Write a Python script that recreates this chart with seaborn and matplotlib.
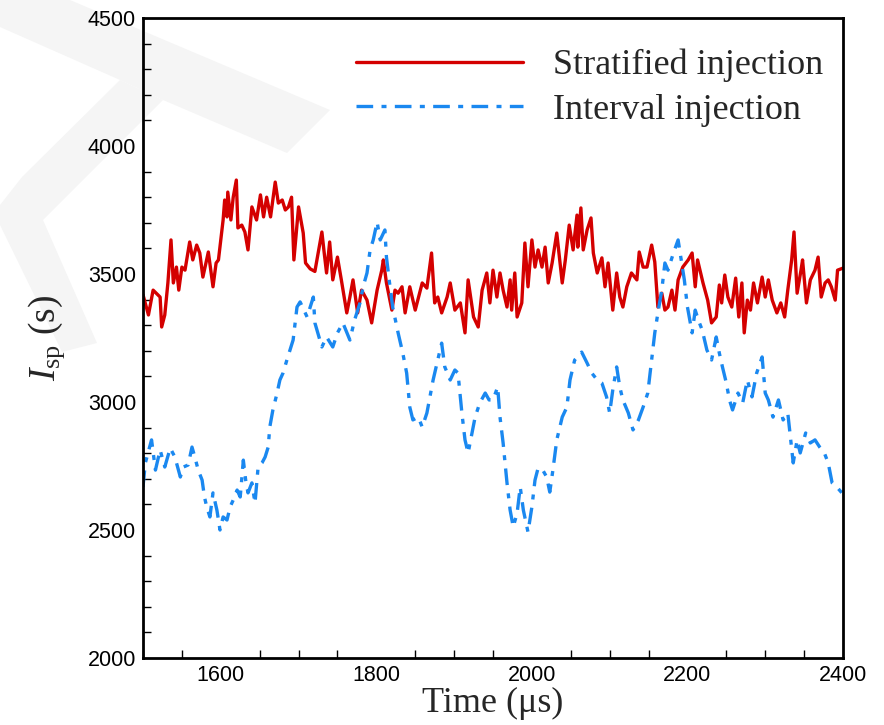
import matplotlib
matplotlib.use("Agg")
import matplotlib.pyplot as plt
from matplotlib import font_manager
from matplotlib.ticker import MultipleLocator
from matplotlib.patches import Polygon
import seaborn as sns
import pandas as pd

# ---------------- data ----------------
strat_t = [1500, 1507, 1513, 1522, 1524, 1528, 1532, 1536, 1539, 1543, 1546, 1550, 1554,
           1560, 1564, 1569, 1573, 1577, 1584, 1590, 1594, 1597, 1603, 1605, 1608, 1609,
           1613, 1616, 1620, 1622, 1627, 1631, 1635, 1640, 1646, 1651, 1655, 1659, 1664,
           1670, 1674, 1679, 1683, 1687, 1691, 1694, 1700, 1706, 1709, 1715, 1721, 1730,
           1733, 1736, 1740, 1744, 1750, 1755, 1762, 1766, 1770, 1776, 1781, 1788, 1794,
           1801, 1807, 1809, 1813, 1820, 1824, 1828, 1833, 1837, 1843, 1850, 1859, 1865,
           1871, 1875, 1879, 1884, 1891, 1895, 1901, 1908, 1914, 1918, 1925, 1931, 1936,
           1942, 1946, 1950, 1955, 1959, 1963, 1968, 1972, 1974, 1978, 1981, 1987, 1991,
           1995, 2000, 2004, 2008, 2013, 2017, 2021, 2026, 2032, 2039, 2043, 2048, 2053,
           2058, 2059, 2063, 2066, 2071, 2076, 2079, 2084, 2090, 2094, 2098, 2104, 2109,
           2113, 2117, 2122, 2128, 2135, 2138, 2143, 2148, 2154, 2158, 2162, 2167, 2171,
           2175, 2180, 2184, 2188, 2194, 2201, 2206, 2210, 2213, 2220, 2226, 2231, 2237,
           2241, 2244, 2248, 2252, 2257, 2262, 2266, 2270, 2273, 2277, 2281, 2285, 2290,
           2296, 2300, 2304, 2309, 2315, 2320, 2325, 2329, 2334, 2337, 2341, 2346, 2348,
           2353, 2358, 2364, 2368, 2372, 2377, 2381, 2385, 2390, 2393, 2400]
strat_v = [3419, 3340, 3437, 3410, 3293, 3340, 3465, 3633, 3465, 3527, 3437, 3527, 3515,
           3625, 3555, 3613, 3582, 3488, 3586, 3450, 3543, 3555, 3711, 3789, 3723, 3820,
           3711, 3800, 3867, 3680, 3691, 3664, 3594, 3762, 3711, 3809, 3723, 3800, 3723,
           3859, 3777, 3789, 3750, 3762, 3800, 3555, 3762, 3660, 3543, 3520, 3510, 3664,
           3582, 3504, 3625, 3477, 3566, 3477, 3348, 3410, 3477, 3348, 3437, 3398, 3309,
           3437, 3515, 3555, 3465, 3359, 3437, 3425, 3450, 3348, 3450, 3359, 3465, 3445,
           3582, 3387, 3410, 3348, 3410, 3465, 3359, 3387, 3270, 3477, 3332, 3293, 3437,
           3504, 3387, 3515, 3410, 3504, 3437, 3371, 3477, 3359, 3504, 3332, 3387, 3621,
           3450, 3633, 3527, 3594, 3527, 3605, 3465, 3543, 3660, 3465, 3555, 3691, 3594,
           3730, 3605, 3758, 3594, 3672, 3719, 3582, 3504, 3563, 3450, 3543, 3359, 3504,
           3410, 3371, 3450, 3504, 3477, 3586, 3527, 3527, 3613, 3547, 3371, 3425, 3359,
           3371, 3437, 3359, 3477, 3527, 3555, 3582, 3450, 3555, 3465, 3398, 3309, 3332,
           3457, 3387, 3496, 3410, 3371, 3484, 3332, 3465, 3270, 3398, 3359, 3465, 3387,
           3488, 3410, 3477, 3398, 3348, 3387, 3332, 3437, 3555, 3664, 3425, 3515, 3555,
           3387, 3477, 3515, 3566, 3410, 3465, 3477, 3450, 3398, 3515, 3523]

inter_t = [1500, 1503, 1511, 1516, 1522, 1528, 1535, 1541, 1548, 1552, 1558, 1563, 1567,
           1571, 1576, 1579, 1582, 1586, 1590, 1595, 1599, 1603, 1608, 1612, 1616, 1621,
           1625, 1629, 1632, 1635, 1640, 1644, 1648, 1653, 1657, 1661, 1663, 1667, 1672,
           1676, 1680, 1685, 1689, 1693, 1698, 1702, 1711, 1719, 1721, 1730, 1736, 1744,
           1750, 1757, 1766, 1772, 1779, 1783, 1788, 1792, 1796, 1801, 1805, 1811, 1813,
           1817, 1821, 1828, 1834, 1839, 1843, 1847, 1854, 1859, 1865, 1873, 1879, 1884,
           1888, 1895, 1901, 1905, 1910, 1914, 1918, 1923, 1927, 1933, 1940, 1945, 1950,
           1956, 1959, 1963, 1968, 1972, 1976, 1981, 1985, 1989, 1995, 2000, 2004, 2008,
           2014, 2019, 2023, 2027, 2032, 2039, 2045, 2049, 2055, 2064, 2071, 2077, 2084,
           2090, 2096, 2100, 2104, 2109, 2113, 2117, 2124, 2130, 2137, 2143, 2149, 2154,
           2158, 2162, 2167, 2171, 2175, 2182, 2188, 2192, 2196, 2200, 2206, 2210, 2214,
           2219, 2225, 2231, 2237, 2241, 2245, 2250, 2254, 2258, 2265, 2271, 2277, 2283,
           2289, 2296, 2300, 2304, 2310, 2317, 2323, 2329, 2336, 2341, 2345, 2352, 2358,
           2364, 2370, 2376, 2381, 2386, 2392, 2400]
inter_v = [2668, 2762, 2852, 2734, 2813, 2746, 2820, 2785, 2707, 2746, 2754, 2824, 2781,
           2734, 2695, 2629, 2590, 2551, 2645, 2578, 2500, 2551, 2539, 2590, 2617, 2656,
           2629, 2773, 2695, 2645, 2684, 2605, 2746, 2762, 2785, 2824, 2902, 2969, 3030,
           3086, 3113, 3164, 3203, 3242, 3371, 3391, 3332, 3410, 3309, 3215, 3254, 3215,
           3270, 3309, 3242, 3320, 3387, 3450, 3504, 3594, 3633, 3703, 3633, 3672, 3566,
           3465, 3371, 3270, 3191, 3113, 2980, 2930, 2941, 2902, 2957, 3086, 3164, 3230,
           3137, 3086, 3125, 3113, 2957, 2852, 2801, 2879, 2941, 2996, 3035, 3008, 3008,
           3059, 2941, 2840, 2684, 2578, 2512, 2566, 2668, 2578, 2492, 2590, 2695, 2742,
           2734, 2707, 2648, 2734, 2852, 2941, 2980, 3086, 3164, 3195, 3152, 3113, 3086,
           3074, 3020, 2957, 3047, 3137, 3059, 3008, 2957, 2891, 2930, 2980, 3035, 3164,
           3270, 3348, 3437, 3543, 3515, 3582, 3633, 3555, 3477, 3371, 3270, 3359, 3320,
           3281, 3203, 3164, 3254, 3191, 3137, 3074, 3008, 2969, 3035, 2996, 3086, 3020,
           3113, 3176, 3035, 3008, 2941, 3008, 2930, 2957, 2762, 2852, 2801, 2879, 2840,
           2852, 2824, 2801, 2762, 2684, 2668, 2640]

series_names = ["Stratified injection", "Interval injection"]
x_ticks = [1600, 1800, 2000, 2200, 2400]
y_ticks = [2000, 2500, 3000, 3500, 4000, 4500]

# ---------------- style ----------------
sns.set_theme(style="white")
names = {f.name for f in font_manager.fontManager.ttflist}
tick_font = "Liberation Sans Narrow" if "Liberation Sans Narrow" in names else "Liberation Sans"
serif = "Liberation Serif"
plt.rcParams["font.family"] = [serif, "DejaVu Serif"]
plt.rcParams["mathtext.fontset"] = "custom"
plt.rcParams["mathtext.rm"] = serif
plt.rcParams["mathtext.it"] = serif + ":italic"

W, H = 884, 725
fig = plt.figure(figsize=(W / 100, H / 100), dpi=100)

# faint watermark in the upper-left corner, on a background layer (figure pixels)
bg = fig.add_axes([0, 0, 1, 1], zorder=-10)
bg.set_xlim(0, W)
bg.set_ylim(H, 0)
bg.axis("off")
wm1 = [(70, 0), (330, 110), (287, 153), (163, 100), (120, 80), (0, 27), (0, 0)]
wm2 = [(120, 80), (163, 100), (43, 220), (97, 343), (62, 352), (0, 225), (0, 205), (22, 177)]
for poly in (wm1, wm2):
    bg.add_patch(Polygon(poly, closed=True, facecolor="#f5f5f5", edgecolor="none"))

ax = fig.add_axes([143 / W, 1 - 658 / H, 700 / W, 640 / H], zorder=1)
ax.patch.set_alpha(0)

df_s = pd.DataFrame({"t": strat_t, "v": strat_v})
df_i = pd.DataFrame({"t": inter_t, "v": inter_v})

sns.lineplot(data=df_s, x="t", y="v", ax=ax, color="#d40000", lw=2.4,
             estimator=None, sort=False, label=series_names[0])
sns.lineplot(data=df_i, x="t", y="v", ax=ax, color="#1a88f0", lw=2.4,
             estimator=None, sort=False, label=series_names[1])
ax.lines[1].set_linestyle((0, (5, 2.5, 1.5, 2.5)))

ax.set_xlim(1500, 2400)
ax.set_ylim(2000, 4500)
ax.set_xticks(x_ticks)
ax.set_yticks(y_ticks)
ax.xaxis.set_minor_locator(MultipleLocator(50))
ax.yaxis.set_minor_locator(MultipleLocator(100))
ax.tick_params(axis="both", which="major", direction="in", length=11, width=1.6,
               colors="black", labelsize=15.5, top=False, right=False, pad=5)
ax.tick_params(axis="both", which="minor", direction="in", length=6, width=1.0,
               colors="black", top=False, right=False, bottom=True, left=True)
for lab in ax.get_xticklabels() + ax.get_yticklabels():
    lab.set_fontfamily(tick_font)
for sp in ax.spines.values():
    sp.set_visible(True)
    sp.set_color("black")
    sp.set_linewidth(2.0)

ax.set_xlabel("Time (\u03bcs)", fontsize=26)
ax.xaxis.set_label_coords(0.5, -0.046)
ax.set_ylabel(r"$I_{\mathrm{sp}}$ (s)", fontsize=27)
ax.yaxis.set_label_coords(-0.108, 0.5)

leg = ax.legend(loc="upper right", frameon=False, fontsize=26, handlelength=4.6,
                handletextpad=0.85, labelspacing=0.32, borderaxespad=0, borderpad=0,
                bbox_to_anchor=(0.972, 0.952))
for h in leg.get_lines():
    h.set_linewidth(2.4)

fig.savefig("out.png", dpi=100)
